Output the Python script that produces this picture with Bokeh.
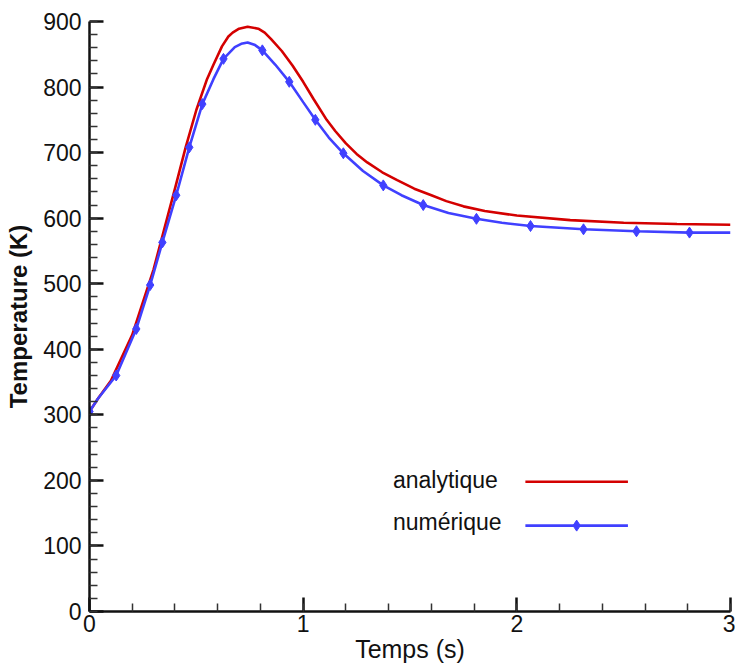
from bokeh.plotting import figure
from bokeh.models import FixedTicker, Range1d
from bokeh.core.properties import value
from bokeh.embed import file_html
from bokeh.resources import INLINE

# analytique (red line)
red_t = [0, 0.04, 0.1, 0.2, 0.3, 0.4, 0.45, 0.5, 0.55, 0.58, 0.62, 0.65, 0.67, 0.7, 0.74,
         0.79, 0.82, 0.85, 0.9, 0.95, 1.0, 1.05, 1.11, 1.15, 1.2, 1.25, 1.3, 1.37, 1.44,
         1.52, 1.6, 1.67, 1.75, 1.85, 2.0, 2.25, 2.5, 2.75, 3.0]
red_T = [305, 325, 352, 422, 522, 645, 708, 765, 812, 834, 862, 877, 883, 889, 892,
         889, 883, 873, 855, 833, 808, 781, 750, 733, 714, 698, 685, 670, 658,
         645, 635, 626, 618, 611, 604, 597, 593, 591, 590]

# numérique (blue line)
blue_t = [0, 0.04, 0.125, 0.219, 0.284, 0.341, 0.406, 0.467, 0.528, 0.58, 0.627, 0.68,
          0.71, 0.74, 0.775, 0.809, 0.87, 0.935, 1.0, 1.057, 1.12, 1.188, 1.28, 1.375,
          1.46, 1.562, 1.68, 1.811, 1.93, 2.064, 2.312, 2.56, 2.808, 3.0]
blue_T = [305, 325, 360, 431, 498, 563, 635, 708, 774, 812, 843, 861,
          866, 868, 864, 856, 834, 808, 777, 750, 723, 699, 672, 650,
          635, 620, 608, 599, 593, 588, 583, 580, 578, 578]

# numérique markers
mark_t = [0, 0.125, 0.219, 0.284, 0.341, 0.406, 0.467, 0.528, 0.627, 0.809, 0.935,
          1.057, 1.188, 1.375, 1.562, 1.811, 2.064, 2.312, 2.56, 2.808]
mark_T = [305, 360, 431, 498, 563, 635, 708, 774, 843, 856, 808,
          750, 699, 650, 620, 599, 588, 583, 580, 578]

x_ticks = [0, 1, 2, 3]
x_minor = [i * 0.2 for i in range(16)]
y_ticks = [0, 100, 200, 300, 400, 500, 600, 700, 800, 900]
y_minor = [i * 20 for i in range(46)]

RED = "#d40000"
BLUE = "#4040ff"
FONT = "Liberation Sans"

p = figure(width=735, height=665, output_backend="svg", toolbar_location=None,
           x_range=Range1d(0, 3), y_range=Range1d(0, 900),
           min_border_left=89, min_border_top=21, min_border_right=5, min_border_bottom=54)
p.outline_line_color = None
p.xgrid.visible = False
p.ygrid.visible = False
p.background_fill_color = "white"

p.line(red_t, red_T, line_color=RED, line_width=2.6)
p.line(blue_t, blue_T, line_color=BLUE, line_width=2.6)
p.scatter(mark_t, mark_T, marker="diamond", size=11, fill_color=BLUE, line_color=BLUE)

for ax, ticks, minor in ((p.xaxis[0], x_ticks, x_minor), (p.yaxis[0], y_ticks, y_minor)):
    ax.ticker = FixedTicker(ticks=ticks, minor_ticks=minor)
    ax.axis_line_width = 2.5
    ax.axis_line_color = "#111111"
    ax.major_tick_in = 14
    ax.major_tick_out = 0
    ax.minor_tick_in = 8
    ax.minor_tick_out = 0
    ax.major_tick_line_width = 2.5
    ax.major_tick_line_color = "#111111"
    ax.minor_tick_line_width = 1.5
    ax.minor_tick_line_color = "#333333"
    ax.major_label_text_font = FONT
    ax.major_label_text_font_size = "23px"
    ax.major_label_text_color = "#111111"
    ax.axis_label_text_font = FONT
    ax.axis_label_text_color = "#111111"

p.xaxis.axis_label = "Temps (s)"
p.xaxis.axis_label_text_font_style = "normal"
p.xaxis.axis_label_text_font_size = "25px"
p.xaxis.axis_label_standoff = 0
p.xaxis.major_label_standoff = 3
p.yaxis.axis_label = "Temperature (K)"
p.yaxis.axis_label_text_font_style = "bold"
p.yaxis.axis_label_text_font_size = "24px"
p.yaxis.axis_label_standoff = 8
p.yaxis.major_label_standoff = 8

# legend (manual, label left of sample)
leg_text_x = 1.42
leg_line_x0, leg_line_x1 = 2.04, 2.52
leg_y1, leg_y2 = 200, 136
p.text([leg_text_x], [leg_y1], text=["analytique"], text_font=value(FONT),
       text_font_size="23px", text_baseline="middle", text_color="#111111")
p.text([leg_text_x], [leg_y2], text=["numérique"], text_font=value(FONT),
       text_font_size="23px", text_baseline="middle", text_color="#111111")
p.line([leg_line_x0, leg_line_x1], [leg_y1 - 2, leg_y1 - 2], line_color=RED, line_width=2.6)
p.line([leg_line_x0, leg_line_x1], [leg_y2 - 5, leg_y2 - 5], line_color=BLUE, line_width=2.6)
p.scatter([(leg_line_x0 + leg_line_x1) / 2], [leg_y2 - 5], marker="diamond", size=11,
          fill_color=BLUE, line_color=BLUE)

open("out.html", "w").write(file_html(p, INLINE))
